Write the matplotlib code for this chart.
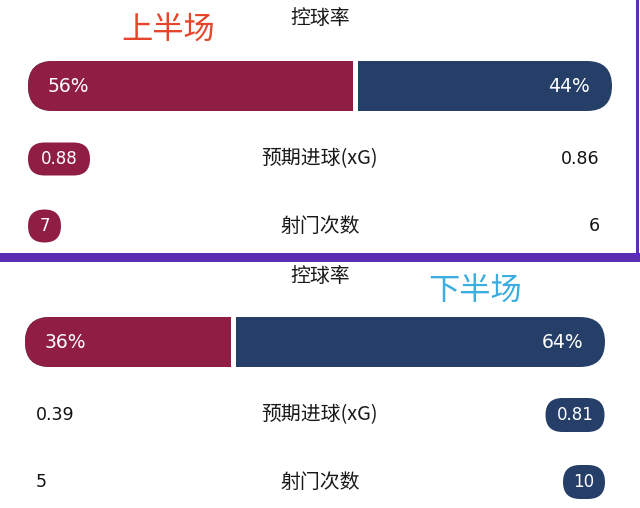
import matplotlib
matplotlib.use('Agg')
import matplotlib.pyplot as plt
from matplotlib.patches import FancyBboxPatch, Rectangle

plt.rcParams['font.family'] = ['Noto Sans CJK SC', 'DejaVu Sans']
num_font = ['DejaVu Sans']

# data
halves = ['上半场', '下半场']
stat_names = ['控球率', '预期进球(xG)', '射门次数']
poss_home = [56, 36]
poss_away = [44, 64]
xg_home = [0.88, 0.39]
xg_away = [0.86, 0.81]
shots_home = [7, 5]
shots_away = [6, 10]

# colours
c_home = '#901e44'
c_away = '#263f69'
c_half = ['#e4452b', '#3badde']
c_frame = '#5a2db3'

# layout per panel (pixels, y down)
y_title = [18, 276]
y_bar = [86, 342]
y_xg = [159, 415]
y_shot = [226, 482]
bar_x0 = [28, 25]
bar_x1 = [612, 605]
half_xy = [(168, 30), (475, 291)]
bar_h = 50

fig = plt.figure(figsize=(6.4, 5.08), dpi=100)
ax = fig.add_axes([0, 0, 1, 1])
ax.set_xlim(0, 640)
ax.set_ylim(508, 0)
ax.axis('off')

# purple frame around first half
ax.add_patch(Rectangle((0, 253), 640, 9, color=c_frame, lw=0))
ax.add_patch(Rectangle((636, 0), 2.5, 256, color=c_frame, lw=0))


def num(x, y, s, ha, color='#111111', size=12.5):
    ax.text(x, y, s, color=color, fontsize=size, ha=ha, va='center', family=num_font)


def pill(xc, yc, w, h, color, text):
    r = h / 2
    ax.add_patch(FancyBboxPatch((xc - w / 2, yc - h / 2), w, h,
                                boxstyle='round,pad=0,rounding_size=%g' % r,
                                fc=color, ec='none'))
    num(xc, yc, text, 'center', color='white', size=12)


def label(y, s):
    ax.text(320, y, s, fontsize=14.3, ha='center', va='center', color='#1a1a1a')


for i in range(2):
    x0, x1 = bar_x0[i], bar_x1[i]
    w = x1 - x0
    yc = y_bar[i]
    r = bar_h / 2
    split = x0 + w * poss_home[i] / 100.0
    # full bar in away colour, home part on top
    ax.add_patch(FancyBboxPatch((x0, yc - r), w, bar_h,
                                boxstyle='round,pad=0,rounding_size=%g' % r,
                                fc=c_away, ec='none'))
    ax.add_patch(FancyBboxPatch((x0, yc - r), split - x0, bar_h,
                                boxstyle='round,pad=0,rounding_size=%g' % r,
                                fc=c_home, ec='none'))
    ax.add_patch(Rectangle((split - r, yc - r), r, bar_h, fc=c_home, ec='none'))
    ax.add_patch(Rectangle((split - 2.5, yc - r - 1), 5, bar_h + 2, fc='white', ec='none'))
    num(x0 + 20, yc, '%d%%' % poss_home[i], 'left', color='white', size=13.5)
    num(x1 - 22, yc, '%d%%' % poss_away[i], 'right', color='white', size=13.5)

    # titles
    label(y_title[i], stat_names[0])
    ax.text(half_xy[i][0], half_xy[i][1], halves[i], fontsize=22.5, ha='center', va='center',
            color=c_half[i])

    # xG row
    label(y_xg[i], stat_names[1])
    if xg_home[i] >= xg_away[i]:
        pill(x0 + 31, y_xg[i], 62, 33, c_home, '%.2f' % xg_home[i])
        num(x1 - 12, y_xg[i], '%.2f' % xg_away[i], 'right')
    else:
        num(36, y_xg[i], '%.2f' % xg_home[i], 'left')
        pill(x1 - 30, y_xg[i], 59, 34, c_away, '%.2f' % xg_away[i])

    # shots row
    label(y_shot[i], stat_names[2])
    if shots_home[i] >= shots_away[i]:
        pill(x0 + 16.5, y_shot[i], 33, 33, c_home, str(shots_home[i]))
        num(x1 - 12, y_shot[i], str(shots_away[i]), 'right')
    else:
        num(36, y_shot[i], str(shots_home[i]), 'left')
        pill(x1 - 21, y_shot[i], 42, 34, c_away, str(shots_away[i]))

fig.savefig('out.png', dpi=100, facecolor='white')
